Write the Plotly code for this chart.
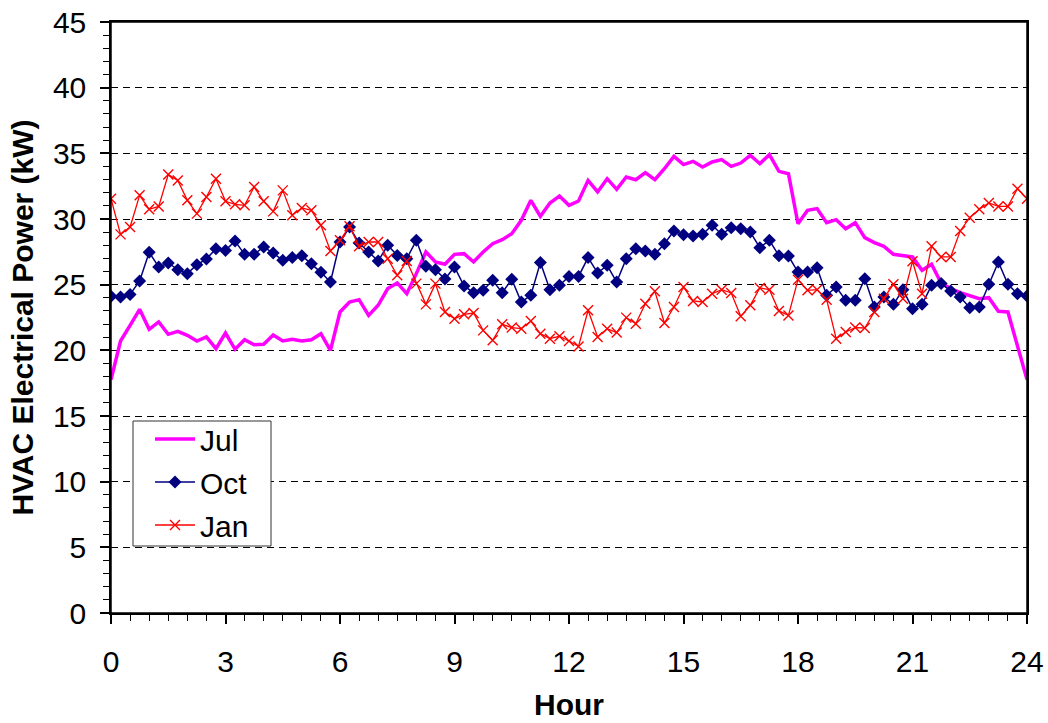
import plotly.graph_objects as go

hours = [i / 4 for i in range(97)]

jul = [17.77, 20.71, 21.90, 23.12, 21.60, 22.16, 21.22, 21.45, 21.14, 20.71, 21.02, 20.13,
       21.32, 20.08, 20.81, 20.43, 20.46, 21.17, 20.71, 20.84, 20.71, 20.81, 21.27, 20.00,
       22.92, 23.68, 23.86, 22.66, 23.43, 24.70, 25.13, 24.31, 25.84, 27.49, 26.73, 26.55,
       27.31, 27.36, 26.73, 27.49, 28.12, 28.43, 28.88, 29.90, 31.42, 30.20, 31.22, 31.75,
       31.04, 31.37, 32.94, 32.06, 33.07, 32.26, 33.20, 32.99, 33.53, 32.99, 33.83, 34.77,
       34.14, 34.39, 33.96, 34.34, 34.52, 34.01, 34.26, 34.85, 34.21, 34.90, 33.63, 33.45,
       29.64, 30.66, 30.79, 29.72, 29.95, 29.26, 29.72, 28.58, 28.20, 27.92, 27.31, 27.23,
       27.11, 26.09, 26.55, 25.13, 24.70, 24.39, 24.19, 23.93, 24.01, 22.97, 22.92, 20.35, 17.77]

oct_ = [24.11, 24.06, 24.26, 25.28, 27.46, 26.35, 26.65, 26.14, 25.84, 26.52, 26.95, 27.74,
        27.61, 28.32, 27.31, 27.31, 27.87, 27.41, 26.85, 27.06, 27.21, 26.60, 25.94, 25.20,
        28.25, 29.39, 28.17, 27.49, 26.80, 28.00, 27.23, 26.98, 28.38, 26.40, 26.14, 25.43,
        26.35, 24.90, 24.39, 24.57, 25.33, 24.39, 25.41, 23.68, 24.19, 26.68, 24.62, 24.95,
        25.63, 25.63, 27.06, 25.89, 26.47, 25.20, 26.98, 27.74, 27.56, 27.31, 28.12, 29.09,
        28.81, 28.71, 28.83, 29.52, 28.83, 29.34, 29.26, 29.01, 27.82, 28.38, 27.21, 27.18,
        25.96, 25.96, 26.29, 24.19, 24.82, 23.81, 23.81, 25.46, 23.30, 24.06, 23.50, 24.62,
        23.17, 23.50, 24.95, 25.08, 24.52, 24.06, 23.25, 23.30, 25.03, 26.73, 25.03, 24.31, 24.14]

jan = [31.55, 28.83, 29.39, 31.80, 30.74, 30.96, 33.38, 32.94, 31.42, 30.41, 31.68, 33.07,
       31.35, 31.12, 31.04, 32.44, 31.35, 30.58, 32.18, 30.28, 30.84, 30.66, 29.52, 27.56,
       28.38, 29.44, 27.92, 28.25, 28.25, 26.98, 25.71, 26.80, 25.08, 23.50, 25.08, 22.92,
       22.41, 22.74, 22.84, 21.52, 20.76, 21.98, 21.73, 21.65, 22.23, 21.27, 20.89, 21.07,
       20.71, 20.30, 23.05, 21.02, 21.65, 21.35, 22.49, 22.03, 23.55, 24.49, 22.08, 23.30,
       24.82, 23.76, 23.68, 24.31, 24.62, 24.37, 22.59, 23.43, 24.75, 24.62, 23.00, 22.66,
       25.38, 24.57, 24.62, 23.86, 20.89, 21.40, 21.73, 21.70, 22.92, 23.93, 25.03, 23.93,
       26.78, 24.31, 27.92, 27.11, 27.11, 29.09, 30.10, 30.74, 31.22, 30.96, 30.96, 32.31, 31.55]

FONT = "Liberation Sans, Arial, sans-serif"

PL, PR, PT, PB = 111, 1027, 22, 613  # plot box in page pixels
PW, PH = PR - PL, PB - PT

fig = go.Figure()
fig.add_trace(go.Scatter(x=hours, y=jul, name="Jul", mode="lines", legendgroup="a",
                         line=dict(color="#FF00FF", width=3.5)))
fig.add_trace(go.Scatter(x=hours, y=oct_, name="Oct", mode="lines+markers", legendgroup="b",
                         line=dict(color="#000080", width=1.5),
                         marker=dict(symbol="diamond", size=10, color="#000080")))
fig.add_trace(go.Scatter(x=hours, y=jan, name="Jan", mode="lines+markers", legendgroup="c",
                         line=dict(color="#FF0000", width=1.3),
                         marker=dict(symbol="x-thin", size=10, color="#FF0000",
                                     line=dict(color="#FF0000", width=1.4))))

# plot frame
fig.add_shape(type="rect", xref="paper", yref="paper", x0=0, x1=1, y0=0, y1=1,
              line=dict(color="black", width=1.5), layer="above")
# legend frame (reference box is wider than plotly's own legend box)
fig.add_shape(type="rect", xref="paper", yref="paper",
              x0=(133 - PL) / PW, x1=(271 - PL) / PW,
              y0=(PB - 546) / PH, y1=(PB - 421) / PH,
              line=dict(color="#333333", width=1), fillcolor="white", layer="above")

fig.update_layout(
    width=1048, height=723,
    margin=dict(l=PL, r=1048 - PR, t=PT, b=723 - PB),
    paper_bgcolor="white", plot_bgcolor="white",
    font=dict(family=FONT, size=30, color="black"),
    showlegend=True,
    hovermode=False,
    legend=dict(x=(150 - PL) / PW, y=(PB - 413) / PH, xanchor="left", yanchor="top",
                bgcolor="rgba(0,0,0,0)", borderwidth=0,
                font=dict(family=FONT, size=30, color="black"),
                tracegroupgap=1, itemwidth=40),
    xaxis=dict(range=[0, 24], tickmode="linear", tick0=0, dtick=3, automargin=False,
               showline=True, linecolor="black", linewidth=1.5, mirror=True,
               ticks="outside", ticklen=9, tickcolor="black", tickwidth=1.5,
               showgrid=False, zeroline=False, ticklabelstandoff=12,
               ticklabeloverflow="allow",
               tickfont=dict(family=FONT, size=30, color="black"),
               minor=dict(dtick=0.5, ticks="outside", ticklen=6, tickcolor="black",
                          tickwidth=1, showgrid=False),
               title=dict(text="<b>Hour</b>", standoff=17,
                          font=dict(family=FONT, size=30, color="black"))),
    yaxis=dict(range=[0, 45], tickmode="linear", tick0=0, dtick=5, automargin=False,
               showline=True, linecolor="black", linewidth=1.5, mirror=True,
               ticks="outside", ticklen=9, tickcolor="black", tickwidth=1.5,
               showgrid=True, gridcolor="black", gridwidth=1, griddash="7px,5px",
               zeroline=False, ticklabelstandoff=8, ticklabeloverflow="allow",
               tickfont=dict(family=FONT, size=30, color="black"),
               minor=dict(dtick=1, ticks="outside", ticklen=6, tickcolor="black",
                          tickwidth=1, showgrid=False),
               title=dict(text="<b>HVAC Electrical Power (kW)</b>", standoff=10,
                          font=dict(family=FONT, size=30, color="black"))),
)

fig.write_html("out.html", config={"displayModeBar": False},
               post_script="document.body.style.margin='0';document.body.style.overflow='hidden';")
